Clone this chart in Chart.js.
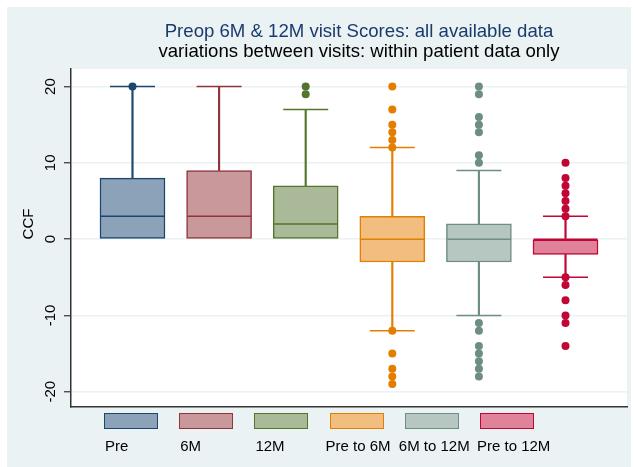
<!DOCTYPE html>
<html>
<head>
<meta charset="utf-8">
<script src="https://cdn.jsdelivr.net/npm/chart.js@4/dist/chart.umd.min.js"></script>
<style>
  html, body { margin: 0; padding: 0; background: #ffffff; }
  #wrap { position: relative; width: 636px; height: 467px; overflow: hidden; font-family: "Liberation Sans", Arial, sans-serif; }
  #bg { position: absolute; left: 7px; top: 7px; width: 624px; height: 460px; background: #EAF2F3; }
  #chart { position: absolute; left: 0; top: 0; }
  .t { position: absolute; white-space: nowrap; transform: translateX(-50%); font-size: 18.6px; line-height: 21px; }
  .lg { position: absolute; width: 52px; height: 14px; border: 1.5px solid; top: 413px; }
  .ll { position: absolute; top: 437px; font-size: 15px; line-height: 18px; color: #000; white-space: nowrap; }
</style>
</head>
<body>
<div id="wrap">
  <div id="bg"></div>
  <canvas id="chart" width="636" height="467"></canvas>
  <div class="t" style="left:359px; top:20px; color:#1A3B6E;">Preop 6M &amp; 12M visit Scores: all available data</div>
  <div class="t" style="left:359px; top:40px; color:#000;">variations between visits: within patient data only</div>
  <div id="legend"></div>
</div>
<script>
// ---- data ----
const categories = ["Pre", "6M", "12M", "Pre to 6M", "6M to 12M", "Pre to 12M"];
const q1Values     = [0, 0, 0, -3, -3, -2];
const medianValues = [3, 3, 2,  0,  0,  0];
const q3Values     = [8, 9, 7,  3,  2,  0];
const lowWhisker   = [0, 0, 0, -12, -10, -5];
const highWhisker  = [20, 20, 17, 12, 9, 3];
const outlierValues = [
  [20],
  [],
  [19, 20],
  [20, 17, 15, 14, 13, 12, -12, -15, -17, -18, -19],
  [20, 19, 16, 15, 14, 11, 10, -11, -12, -14, -15, -16, -17, -18],
  [10, 8, 7, 6, 5, 4, 3, -5, -6, -8, -10, -11, -14]
];
const yTickValues = [-20, -10, 0, 10, 20];
const yAxisTitle = "CCF";

// ---- styles ----
const lineColors = ["#1A476F", "#90353B", "#55752F", "#E37E00", "#6E8E84", "#C10534"];
const fillColors = ["#8CA2B8", "#C8989B", "#AAB997", "#F1BE7F", "#B6C6C1", "#E08299"];

const xs = categories.map((c, i) => i + 1);

const boxData = xs.map((x, i) => ({ x: x, y: [q1Values[i], q3Values[i]] }));
const medianData = xs.map((x, i) => ({ x: x, y: medianValues[i] }));
const whiskerData = [], whiskerColors = [];
const capData = [], capColors = [];
xs.forEach((x, i) => {
  if (highWhisker[i] > q3Values[i]) { whiskerData.push({ x: x, y: [q3Values[i], highWhisker[i]] }); whiskerColors.push(lineColors[i]); }
  if (lowWhisker[i] < q1Values[i]) { whiskerData.push({ x: x, y: [lowWhisker[i], q1Values[i]] }); whiskerColors.push(lineColors[i]); }
  capData.push({ x: x, y: highWhisker[i] }); capColors.push(lineColors[i]);
  if (lowWhisker[i] < q1Values[i]) { capData.push({ x: x, y: lowWhisker[i] }); capColors.push(lineColors[i]); }
});
const outData = [], outColors = [];
outlierValues.forEach((arr, i) => arr.forEach(v => { outData.push({ x: xs[i], y: v }); outColors.push(lineColors[i]); }));

const plotBg = {
  id: 'plotBg',
  beforeDraw(chart) {
    const a = chart.chartArea, ctx = chart.ctx;
    ctx.save(); ctx.fillStyle = '#ffffff';
    ctx.fillRect(a.left, a.top, a.right - a.left, a.bottom - a.top);
    ctx.restore();
  },
  afterDraw(chart) {
    const a = chart.chartArea, ctx = chart.ctx;
    ctx.save();
    ctx.translate(28.5, (a.top + a.bottom) / 2 - 14);
    ctx.rotate(-Math.PI / 2);
    ctx.fillStyle = '#000';
    ctx.font = '15px "Liberation Sans", Arial, sans-serif';
    ctx.textAlign = 'center';
    ctx.textBaseline = 'middle';
    ctx.fillText(yAxisTitle, 0, 0);
    ctx.restore();
  }
};

new Chart(document.getElementById('chart'), {
  data: {
    datasets: [
      { type: 'scatter', data: outData, pointRadius: 4, pointHoverRadius: 4, pointBackgroundColor: outColors, pointBorderColor: outColors, pointBorderWidth: 0, order: 1 },
      { type: 'scatter', data: capData, pointStyle: 'line', pointRadius: 22.5, pointHoverRadius: 22.5, pointBorderColor: capColors, pointBorderWidth: 1.5, order: 2 },
      { type: 'scatter', data: medianData, pointStyle: 'line', pointRadius: 32, pointHoverRadius: 32, pointBorderColor: lineColors, pointBorderWidth: 1.5, order: 3 },
      { type: 'bar', data: whiskerData, backgroundColor: whiskerColors, borderWidth: 0, barThickness: 1.5, grouped: false, order: 4 },
      { type: 'bar', data: boxData, backgroundColor: fillColors, borderColor: lineColors, borderWidth: 1.5, borderSkipped: false, barThickness: 65, grouped: false, order: 5 }
    ]
  },
  options: {
    responsive: false,
    animation: false,
    events: [],
    layout: { autoPadding: false, padding: { left: 0, top: 69, right: 9, bottom: 60 } },
    plugins: { legend: { display: false }, tooltip: { enabled: false }, title: { display: false } },
    scales: {
      x: {
        type: 'linear', min: 0.29, max: 6.71, offset: false,
        ticks: { display: false },
        grid: { display: false, drawTicks: false, offset: false },
        border: { display: true, color: '#333333', width: 1.5 },
        afterFit(s) { s.height = 0; s.paddingLeft = 0; s.paddingRight = 0; }
      },
      y: {
        type: 'linear', min: -22, max: 22.3,
        afterBuildTicks(s) { s.ticks = yTickValues.map(v => ({ value: v })); },
        ticks: { minRotation: 90, maxRotation: 90, crossAlign: 'center', padding: 2, color: '#000', font: { family: '"Liberation Sans", Arial, sans-serif', size: 15 } },
        grid: { color: '#EAF2F3', lineWidth: 1.5, tickLength: 7, tickColor: '#333333', tickWidth: 1.2 },
        border: { display: true, color: '#333333', width: 1.5 },
        afterFit(s) { s.width = 71; s.paddingLeft = 0; s.paddingRight = 0; }
      }
    }
  },
  plugins: [plotBg]
});

// legend (HTML)
const legendEl = document.getElementById('legend');
const labelShift = [0, 0, 0, -5, -7, -4];
categories.forEach((c, i) => {
  const left = 104 + 75.2 * i;
  const b = document.createElement('div');
  b.className = 'lg';
  b.style.left = left + 'px';
  b.style.background = fillColors[i];
  b.style.borderColor = lineColors[i];
  legendEl.appendChild(b);
  const l = document.createElement('div');
  l.className = 'll';
  l.style.left = (left + 1 + labelShift[i]) + 'px';
  l.textContent = c;
  legendEl.appendChild(l);
});
</script>
</body>
</html>
